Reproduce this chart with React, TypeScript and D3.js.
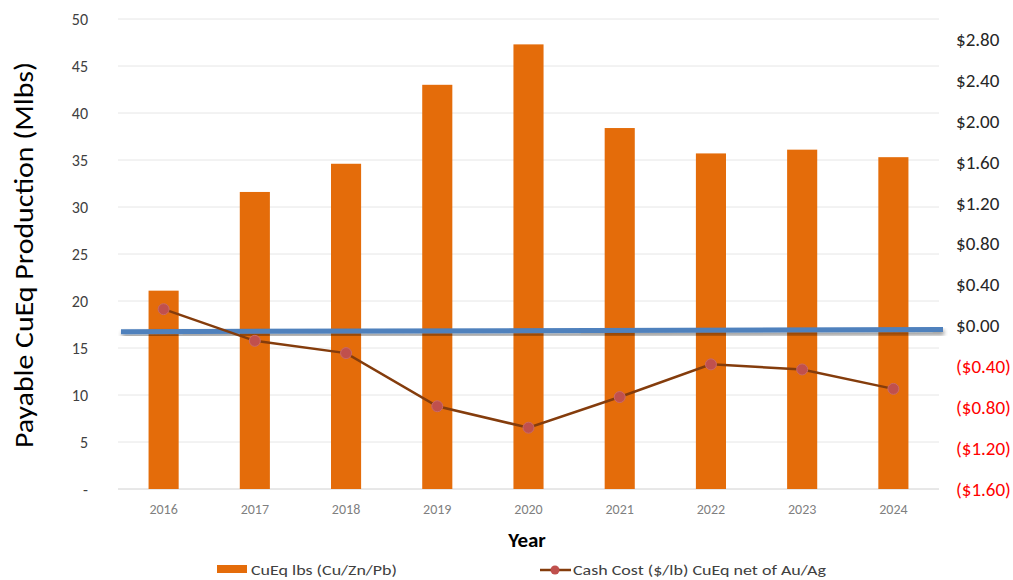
import * as d3 from "d3";

const years = ["2016", "2017", "2018", "2019", "2020", "2021", "2022", "2023", "2024"];
const cueqLbs = [21.1, 31.6, 34.6, 43.0, 47.3, 38.4, 35.7, 36.1, 35.3];
const cashCost = [0.16, -0.15, -0.27, -0.79, -1.0, -0.7, -0.38, -0.43, -0.62];
// blue reference line, in $/lb (start, end)
const refLine = [-0.06, -0.04];
const leftTicks = [0, 5, 10, 15, 20, 25, 30, 35, 40, 45, 50];
const rightTicks = [-1.6, -1.2, -0.8, -0.4, 0, 0.4, 0.8, 1.2, 1.6, 2.0, 2.4, 2.8];

const W = 1013, H = 580;
const M = { left: 118, right: 939, top: 19, bottom: 489 };
const FONT = "Carlito, Lato, 'Open Sans', sans-serif";

const fmtMoney = (v: number) =>
  v < 0 ? `($${Math.abs(v).toFixed(2)})` : `$${v.toFixed(2)}`;

export default function App() {
  const x = d3.scaleBand(years, [M.left, M.right]).paddingInner(0.67).paddingOuter(0.335);
  const yL = d3.scaleLinear([0, 50], [M.bottom, M.top]);
  const yR = d3.scaleLinear([-1.6, 3.0], [M.bottom, M.top]);
  const cx = (y: string) => (x(y) ?? 0) + x.bandwidth() / 2;

  const line = d3.line<number>().x((_, i) => cx(years[i])).y((v) => yR(v));

  return (
    <svg width={W} height={H} style={{ position: "absolute", left: 0, top: 0, background: "#fff" }}>
      <defs>
        <filter id="shadow" x="-5%" y="-200%" width="110%" height="500%">
          <feGaussianBlur in="SourceAlpha" stdDeviation="2" />
          <feOffset dx="1" dy="3" result="b" />
          <feComponentTransfer><feFuncA type="linear" slope="0.45" /></feComponentTransfer>
          <feMerge><feMergeNode /><feMergeNode in="SourceGraphic" /></feMerge>
        </filter>
      </defs>

      {/* gridlines */}
      {leftTicks.map((t) => (
        <line key={t} x1={M.left} x2={M.right} y1={yL(t)} y2={yL(t)}
          stroke={t === 0 ? "#d0d0d0" : "#e6e6e6"} strokeWidth={1} />
      ))}

      {/* left ticks */}
      {leftTicks.map((t) => (
        <text key={t} x={88} y={yL(t)} dy="0.35em" textAnchor="end"
          fontFamily={FONT} fontSize={16} fill="#404040">
          {t === 0 ? "-" : t}
        </text>
      ))}

      {/* right ticks */}
      {rightTicks.map((t) => (
        <text key={t} x={956} y={yR(t)} dy="0.35em" textAnchor="start"
          fontFamily={FONT} fontSize={19} fill={t < 0 ? "#ff0000" : "#262626"}>
          {fmtMoney(t)}
        </text>
      ))}

      {/* bars */}
      {years.map((yr, i) => (
        <rect key={yr} x={x(yr)} y={yL(cueqLbs[i])} width={x.bandwidth()}
          height={yL(0) - yL(cueqLbs[i])} fill="#E46C0A" />
      ))}

      {/* x labels */}
      {years.map((yr) => (
        <text key={yr} x={cx(yr)} y={509} dy="0.35em" textAnchor="middle"
          fontFamily={FONT} fontSize={14} fill="#7f7f7f">
          {yr}
        </text>
      ))}

      {/* blue reference line */}
      <line x1={121} x2={943} y1={yR(refLine[0])} y2={yR(refLine[1])}
        stroke="#4F81BD" strokeWidth={5} filter="url(#shadow)" />

      {/* cash cost line */}
      <path d={line(cashCost) ?? ""} fill="none" stroke="#843C0C" strokeWidth={2.5} />
      {cashCost.map((v, i) => (
        <circle key={i} cx={cx(years[i])} cy={yR(v)} r={5.5} fill="#C0504D" stroke="#c96a67" strokeWidth={1} />
      ))}

      {/* axis titles */}
      <text transform="translate(24,255) rotate(-90)" textAnchor="middle" dy="0.35em"
        fontFamily={FONT} fontSize={26} fill="#000" textLength={386} lengthAdjust="spacingAndGlyphs">
        Payable CuEq Production (Mlbs)
      </text>
      <text x={527} y={540} textAnchor="middle" dy="0.35em" fontFamily={FONT}
        fontSize={21} fontWeight="bold" fill="#000">
        Year
      </text>

      {/* legend */}
      <rect x={217} y={565} width={30} height={8} fill="#E46C0A" />
      <text x={251} y={570} dy="0.35em" fontFamily={FONT} fontSize={15} fill="#404040"
        textLength={146} lengthAdjust="spacingAndGlyphs">
        CuEq lbs (Cu/Zn/Pb)
      </text>
      <line x1={540} x2={571} y1={570} y2={570} stroke="#843C0C" strokeWidth={2.5} />
      <circle cx={555} cy={570} r={4.5} fill="#C0504D" />
      <text x={573} y={570} dy="0.35em" fontFamily={FONT} fontSize={15} fill="#404040"
        textLength={253} lengthAdjust="spacingAndGlyphs">
        Cash Cost ($/lb) CuEq net of Au/Ag
      </text>
    </svg>
  );
}
